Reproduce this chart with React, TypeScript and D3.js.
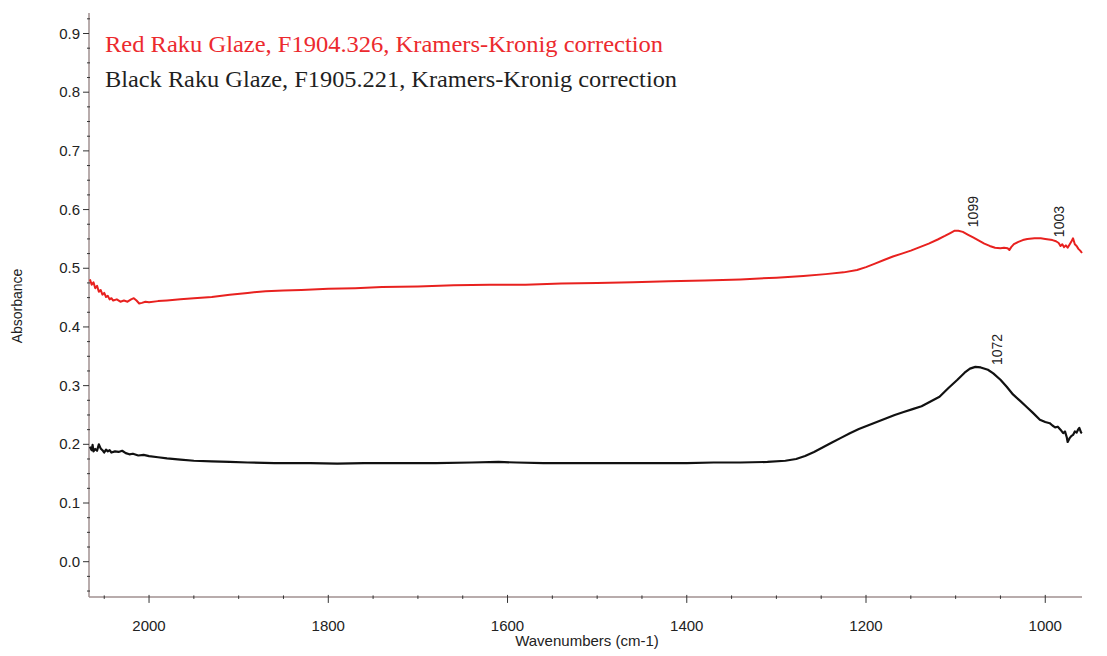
import React from "react";
import * as d3 from "d3";

const redWn = [2066, 2064, 2062, 2060, 2058, 2056, 2054, 2052, 2050, 2048, 2046, 2044, 2042, 2040, 2036, 2032, 2028, 2024, 2020, 2017, 2014, 2011, 2008, 2004, 2000, 1990, 1980, 1965, 1950, 1930, 1910, 1890, 1870, 1850, 1830, 1800, 1770, 1740, 1700, 1660, 1620, 1580, 1540, 1500, 1460, 1420, 1380, 1340, 1300, 1270, 1245, 1225, 1210, 1200, 1190, 1180, 1170, 1160, 1150, 1140, 1130, 1120, 1112, 1106, 1101, 1097, 1092, 1086, 1080, 1074, 1068, 1062, 1056, 1050, 1046, 1042, 1040, 1038, 1035, 1030, 1025, 1020, 1012, 1005, 1000, 996, 992, 988, 985, 983, 981, 979, 977, 975, 973, 971, 969, 967, 965, 963, 961, 959];
const redAbs = [0.481, 0.472, 0.476, 0.466, 0.470, 0.460, 0.463, 0.455, 0.458, 0.451, 0.453, 0.447, 0.449, 0.445, 0.447, 0.443, 0.445, 0.443, 0.447, 0.449, 0.445, 0.440, 0.441, 0.443, 0.442, 0.444, 0.445, 0.447, 0.449, 0.451, 0.455, 0.458, 0.461, 0.462, 0.463, 0.465, 0.466, 0.468, 0.469, 0.471, 0.472, 0.472, 0.474, 0.475, 0.476, 0.478, 0.479, 0.481, 0.484, 0.487, 0.490, 0.493, 0.497, 0.502, 0.508, 0.514, 0.520, 0.525, 0.530, 0.536, 0.542, 0.549, 0.555, 0.560, 0.564, 0.564, 0.562, 0.557, 0.552, 0.547, 0.542, 0.538, 0.535, 0.534, 0.535, 0.534, 0.531, 0.536, 0.541, 0.545, 0.548, 0.550, 0.551, 0.551, 0.550, 0.549, 0.548, 0.546, 0.543, 0.538, 0.541, 0.536, 0.539, 0.535, 0.540, 0.545, 0.551, 0.541, 0.538, 0.533, 0.530, 0.526];

const blackWn = [2066, 2064, 2063, 2062, 2060, 2058, 2056, 2054, 2052, 2050, 2048, 2046, 2044, 2042, 2038, 2034, 2030, 2026, 2022, 2018, 2012, 2006, 2000, 1990, 1980, 1965, 1950, 1930, 1910, 1890, 1860, 1820, 1790, 1760, 1720, 1680, 1640, 1610, 1590, 1560, 1520, 1480, 1440, 1400, 1370, 1340, 1310, 1290, 1278, 1268, 1258, 1248, 1238, 1228, 1218, 1208, 1198, 1188, 1178, 1168, 1158, 1148, 1138, 1128, 1118, 1108, 1098, 1090, 1084, 1078, 1072, 1064, 1058, 1050, 1043, 1036, 1028, 1021, 1014, 1006, 1000, 995, 992, 989, 986, 983, 980, 978, 976, 975, 973, 971, 969, 967, 965, 963, 962, 960, 959];
const blackAbs = [0.196, 0.190, 0.199, 0.188, 0.192, 0.189, 0.200, 0.193, 0.190, 0.186, 0.191, 0.188, 0.190, 0.186, 0.188, 0.187, 0.189, 0.185, 0.183, 0.184, 0.181, 0.182, 0.180, 0.178, 0.176, 0.174, 0.172, 0.171, 0.170, 0.169, 0.168, 0.168, 0.167, 0.168, 0.168, 0.168, 0.169, 0.170, 0.169, 0.168, 0.168, 0.168, 0.168, 0.168, 0.169, 0.169, 0.170, 0.172, 0.175, 0.180, 0.187, 0.195, 0.203, 0.211, 0.219, 0.226, 0.232, 0.238, 0.244, 0.250, 0.255, 0.260, 0.265, 0.273, 0.281, 0.296, 0.310, 0.322, 0.329, 0.332, 0.331, 0.327, 0.321, 0.310, 0.298, 0.285, 0.274, 0.264, 0.254, 0.242, 0.238, 0.236, 0.232, 0.229, 0.230, 0.225, 0.219, 0.222, 0.212, 0.204, 0.210, 0.214, 0.216, 0.222, 0.220, 0.226, 0.228, 0.220, 0.219];

const xMajorTicks = [2000, 1800, 1600, 1400, 1200, 1000];
const xMinorTicks = [2050, 1950, 1900, 1850, 1750, 1700, 1650, 1550, 1500, 1450, 1350, 1300, 1250, 1150, 1100, 1050];
const yMajorTicks = [0.0, 0.1, 0.2, 0.3, 0.4, 0.5, 0.6, 0.7, 0.8, 0.9];
const yMinorTicks = [-0.05, -0.025, 0.025, 0.05, 0.075, 0.125, 0.15, 0.175, 0.225, 0.25, 0.275, 0.325, 0.35, 0.375, 0.425, 0.45, 0.475, 0.525, 0.55, 0.575, 0.625, 0.65, 0.675, 0.725, 0.75, 0.775, 0.825, 0.85, 0.875, 0.925];

const peakLabels = ["1099", "1003", "1072"];
const peakWn = [1099, 1003, 1072];
const peakLabelAbs = [0.57, 0.553, 0.335];

const legendLabels = [
  "Red Raku Glaze, F1904.326, Kramers-Kronig correction",
  "Black Raku Glaze, F1905.221, Kramers-Kronig correction",
];

export default function App() {
  const W = 1107, H = 656;
  const x = d3.scaleLinear().domain([2067, 959]).range([89, 1082]);
  const y = d3.scaleLinear().domain([0, 0.9]).range([561.7, 33.5]);
  const yBottom = y(-0.06);
  const yTop = y(0.935);
  const axisColor = "#a09090";
  const line = d3.line<[number, number]>().x((d) => x(d[0])).y((d) => y(d[1]));
  const redPts = redWn.map((w, i) => [w, redAbs[i]] as [number, number]);
  const blackPts = blackWn.map((w, i) => [w, blackAbs[i]] as [number, number]);
  const sans = "'Liberation Sans', Arial, sans-serif";
  const serif = "'Liberation Serif', 'Times New Roman', serif";

  return (
    <svg width={W} height={H} style={{ position: "absolute", left: 0, top: 0, background: "#fff" }}>
      <rect x={0} y={0} width={W} height={H} fill="#fff" />
      {/* axes */}
      <line x1={x(2067)} x2={x(2067)} y1={yTop} y2={yBottom} stroke={axisColor} strokeWidth={1.5} />
      <line x1={x(2067)} x2={x(959)} y1={yBottom} y2={yBottom} stroke={axisColor} strokeWidth={1.5} />
      {yMajorTicks.map((t) => (
        <g key={"ym" + t}>
          <line x1={x(2067) - 6} x2={x(2067)} y1={y(t)} y2={y(t)} stroke="#333" strokeWidth={1} />
          <text x={80} y={y(t) + 5} textAnchor="end" fontFamily={sans} fontSize={15} fill="#222">
            {t.toFixed(1)}
          </text>
        </g>
      ))}
      {yMinorTicks.map((t) => (
        <line key={"yn" + t} x1={x(2067) - 2} x2={x(2067) + 1} y1={y(t)} y2={y(t)} stroke="#333" strokeWidth={1} />
      ))}
      {xMajorTicks.map((t) => (
        <g key={"xm" + t}>
          <line x1={x(t)} x2={x(t)} y1={yBottom - 2} y2={yBottom + 6} stroke="#333" strokeWidth={1} />
          <text x={x(t)} y={631} textAnchor="middle" fontFamily={sans} fontSize={15} fill="#222">
            {t}
          </text>
        </g>
      ))}
      {xMinorTicks.map((t) => (
        <line key={"xn" + t} x1={x(t)} x2={x(t)} y1={yBottom - 1.5} y2={yBottom + 2} stroke="#333" strokeWidth={1} />
      ))}
      <text x={587} y={646} textAnchor="middle" fontFamily={sans} fontSize={15} fill="#222">
        Wavenumbers (cm-1)
      </text>
      <text
        transform="translate(22,306) rotate(-90)"
        textAnchor="middle"
        fontFamily={sans}
        fontSize={14}
        fill="#222"
      >
        Absorbance
      </text>
      {/* series */}
      <path d={line(redPts) || ""} fill="none" stroke="#e8211f" strokeWidth={2} strokeLinejoin="round" />
      <path d={line(blackPts) || ""} fill="none" stroke="#111" strokeWidth={2.2} strokeLinejoin="round" />
      {/* peak labels */}
      {peakLabels.map((lab, i) => (
        <text
          key={lab}
          transform={`translate(${x(peakWn[i]) + 21},${y(peakLabelAbs[i])}) rotate(-90)`}
          fontFamily={sans}
          fontSize={14}
          fill="#222"
        >
          {lab}
        </text>
      ))}
      {/* legend */}
      <text x={105} y={52} fontFamily={serif} fontSize={24} fill="#ec2a2e" textLength={558} lengthAdjust="spacingAndGlyphs">
        {legendLabels[0]}
      </text>
      <text x={105} y={87} fontFamily={serif} fontSize={24} fill="#1f1f1f" textLength={572} lengthAdjust="spacingAndGlyphs">
        {legendLabels[1]}
      </text>
    </svg>
  );
}
